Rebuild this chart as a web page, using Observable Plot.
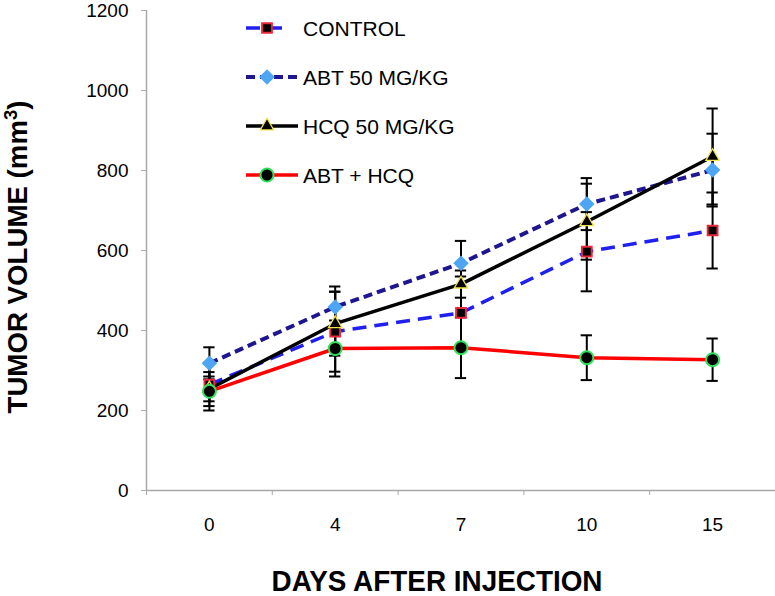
<!DOCTYPE html>
<html><head><meta charset="utf-8">
<script src="https://cdn.jsdelivr.net/npm/d3@7"></script>
<script src="https://cdn.jsdelivr.net/npm/@observablehq/plot@0.6"></script>
<style>
body{margin:0;background:#fff;}
#wrap{position:relative;width:775px;height:596px;font-family:"Liberation Sans",Arial,sans-serif;}
#legend{position:absolute;left:240px;top:8px;}
</style></head><body><div id="wrap"><div id="legend"></div></div>
<script>
// ---- data ----
const days = ["0", "4", "7", "10", "15"];
const seriesNames = ["CONTROL", "ABT 50 MG/KG", "HCQ 50 MG/KG", "ABT + HCQ"];
const controlVals = [265, 397, 444, 597, 650];
const controlErr  = [54, 100, 91, 99, 95];
const abtVals     = [318, 459, 568, 716, 801];
const abtErr      = [40, 51, 56, 65, 91];
const hcqVals     = [254, 417, 516, 672, 835];
const hcqErr      = [31, 80, 34, 95, 120];
const comboVals   = [248, 355, 357, 332, 327];
const comboErr    = [48, 70, 76, 56, 53];
const yTicks = [0, 200, 400, 600, 800, 1000, 1200];

// ---- styles ----
const styles = [
  {line: "#1f1fef", dash: "14,8", width: 3.5, symbol: "square", fill: "#000", mstroke: "#e8283c", r: 5.5, msw: 2, legEnd: 48},
  {line: "#1e1690", dash: "9,5", width: 4, symbol: "diamond2", fill: "#4ea6f2", mstroke: "none", r: 7, msw: 0, legEnd: 58},
  {line: "#000000", dash: null, width: 3.5, symbol: "triangle", fill: "#000", mstroke: "#f3e44a", r: 5, msw: 1.3, legEnd: 58},
  {line: "#ff0000", dash: null, width: 3.5, symbol: "circle", fill: "#000", mstroke: "#2ee05a", r: 6.5, msw: 2, legEnd: 58}
];
const allVals = [controlVals, abtVals, hcqVals, comboVals];
const allErr = [controlErr, abtErr, hcqErr, comboErr];

const rows = [];
seriesNames.forEach((s, i) => {
  days.forEach((d, j) => rows.push({series: s, si: i, day: j, value: allVals[i][j], err: allErr[i][j]}));
});

const gray = "#a8a8a8";
const marks = [];
marks.push(Plot.ruleX([-0.5], {stroke: gray, strokeWidth: 1.5}));
marks.push(Plot.ruleY([0], {stroke: gray, strokeWidth: 1.5}));
marks.push(Plot.axisY({ticks: yTicks, tickSize: 5, tickPadding: 13, stroke: gray, fill: "#000", fontSize: 19, label: null, tickFormat: d => String(d)}));
marks.push(Plot.axisX({ticks: d3.range(days.length), tickSize: 0, tickPadding: 27, fontSize: 19, label: null, tickFormat: i => days[i]}));
marks.push(Plot.axisX({ticks: d3.range(days.length + 1).map(i => i - 0.5), tickSize: 5, stroke: gray, tickFormat: () => "", label: null}));
seriesNames.forEach((s, i) => {
  const st = styles[i];
  marks.push(Plot.line(rows.filter(r => r.si === i), {x: "day", y: "value", stroke: st.line, strokeWidth: st.width, strokeDasharray: st.dash, strokeLinecap: "butt"}));
});
marks.push(Plot.ruleX(rows, {x: "day", y1: d => d.value - d.err, y2: d => d.value + d.err, stroke: "#000", strokeWidth: 2}));
marks.push(Plot.ruleY(rows, {y: d => d.value - d.err, x1: d => d.day - 0.045, x2: d => d.day + 0.045, stroke: "#000", strokeWidth: 2}));
marks.push(Plot.ruleY(rows, {y: d => d.value + d.err, x1: d => d.day - 0.045, x2: d => d.day + 0.045, stroke: "#000", strokeWidth: 2}));
seriesNames.forEach((s, i) => {
  const st = styles[i];
  marks.push(Plot.dot(rows.filter(r => r.si === i), {x: "day", y: "value", symbol: () => st.symbol, fill: st.fill, stroke: st.mstroke, strokeWidth: st.msw, r: st.r}));
});

const chart = Plot.plot({
  width: 775, height: 596,
  marginLeft: 146, marginRight: 0, marginTop: 10, marginBottom: 106,
  style: {fontFamily: "'Liberation Sans', Arial, sans-serif", background: "#fff", color: "#000"},
  x: {type: "linear", domain: [-0.5, days.length - 0.5], axis: null},
  y: {domain: [0, 1200], axis: null},
  symbol: {type: "identity"},
  marks
});
document.getElementById("wrap").prepend(chart);

// axis titles
const svg = d3.select(chart);
const yt = svg.append("text")
  .attr("transform", "translate(27,257) rotate(-90)")
  .attr("text-anchor", "middle")
  .attr("font-weight", "bold").attr("font-size", 27)
  .attr("textLength", 313).attr("lengthAdjust", "spacingAndGlyphs");
yt.append("tspan").text("TUMOR VOLUME (mm");
yt.append("tspan").attr("dy", -10).attr("font-size", 18).text("3");
yt.append("tspan").attr("dy", 10).text(")");
svg.append("text")
  .attr("x", 437).attr("y", 591)
  .attr("text-anchor", "middle")
  .attr("font-weight", "bold").attr("font-size", 29)
  .attr("textLength", 331).attr("lengthAdjust", "spacingAndGlyphs")
  .text("DAYS AFTER INJECTION");

// legend
const lg = d3.select("#legend").append("svg").attr("width", 260).attr("height", 190)
  .style("font-family", "'Liberation Sans', Arial, sans-serif");
const symMap = {square: d3.symbolSquare, diamond2: d3.symbolDiamond2, triangle: d3.symbolTriangle, circle: d3.symbolCircle};
seriesNames.forEach((s, i) => {
  const st = styles[i];
  const cy = 20 + i * 49;
  const g = lg.append("g").attr("transform", `translate(0,${cy})`);
  g.append("line").attr("x1", 6).attr("x2", st.legEnd).attr("y1", 0).attr("y2", 0)
    .attr("stroke", st.line).attr("stroke-width", st.width)
    .attr("stroke-dasharray", st.dash);
  g.append("path").attr("transform", "translate(27,0)")
    .attr("d", d3.symbol(symMap[st.symbol], Math.PI * st.r * st.r)())
    .attr("fill", st.fill).attr("stroke", st.mstroke).attr("stroke-width", st.msw);
  g.append("text").attr("x", 63).attr("y", 0).attr("dy", "0.36em")
    .attr("font-size", 21).text(s);
});
</script></body></html>
